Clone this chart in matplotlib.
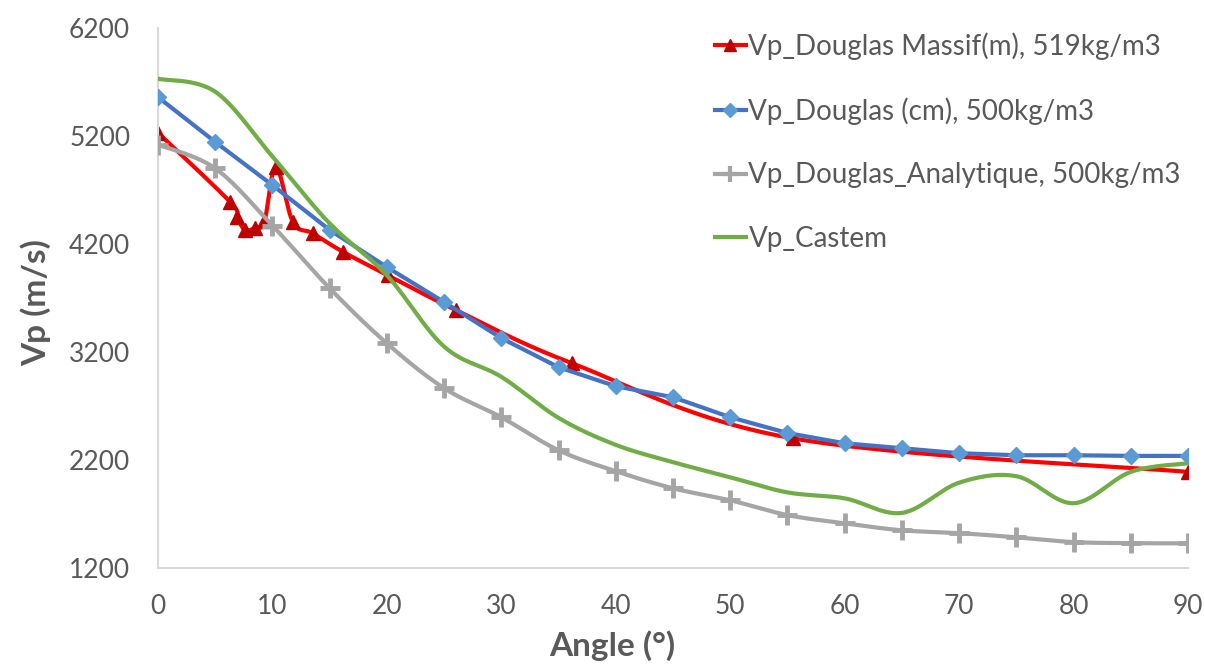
import numpy as np
import matplotlib
matplotlib.use('Agg')
import matplotlib.pyplot as plt

plt.rcParams['font.family'] = ['Lato', 'DejaVu Sans']

# Vp_Douglas Massif(m), 519kg/m3
angle_massif = [0, 6.3, 6.9, 7.6, 8.5, 9.3, 10.3, 11.8, 13.5, 16.2, 20.1, 26.0, 36.2, 55.5, 90]
vp_massif = [5230, 4590, 4450, 4330, 4350, 4410, 4915, 4400, 4300, 4125, 3910, 3590, 3095, 2400, 2090]

# angles every 5 deg for the other series
angle = [0, 5, 10, 15, 20, 25, 30, 35, 40, 45, 50, 55, 60, 65, 70, 75, 80, 85, 90]
vp_cm = [5560, 5145, 4745, 4330, 3986, 3662, 3328, 3059, 2883, 2781, 2596, 2450, 2355,
         2309, 2263, 2244, 2244, 2238, 2238]
vp_analytique = [5120, 4900, 4370, 3790, 3280, 2865, 2596, 2290, 2096, 1938, 1827, 1690,
                 1614, 1549, 1523, 1484, 1440, 1430, 1428]
vp_castem = [5730, 5610, 5010, 4390, 3910, 3250, 2970, 2590, 2340, 2180, 2040, 1900, 1845,
             1710, 1990, 2050, 1800, 2090, 2170]

labels = ['Vp_Douglas Massif(m), 519kg/m3', 'Vp_Douglas (cm), 500kg/m3',
          'Vp_Douglas_Analytique, 500kg/m3', 'Vp_Castem']


def smooth(x, y, n=30):
    # excel style smoothed line (catmull-rom bezier through the points)
    p = np.column_stack([x, y]).astype(float)
    p = np.vstack([p[0], p, p[-1]])
    t = np.linspace(0, 1, n)[:, None]
    out = []
    for i in range(1, len(p) - 2):
        p0, p1, p2, p3 = p[i - 1], p[i], p[i + 1], p[i + 2]
        c1 = p1 + (p2 - p0) / 6
        c2 = p2 - (p3 - p1) / 6
        seg = ((1 - t) ** 3) * p1 + 3 * ((1 - t) ** 2) * t * c1 + 3 * (1 - t) * t ** 2 * c2 + t ** 3 * p2
        out.append(seg)
    out = np.vstack(out)
    return out[:, 0], out[:, 1]


fig = plt.figure(figsize=(12.05, 6.65), dpi=100)
ax = fig.add_axes([158 / 1205, 1 - 568 / 665, 1030 / 1205, 540 / 665])

red, red_dk = '#ff0000', '#c00000'
blue, blue_lt = '#4472c4', '#5b9bd5'
grey = '#a5a5a5'
green = '#70ad47'
txt = '#595959'
lw = 3

sx, sy = smooth(angle_massif, vp_massif)
ax.plot(sx, sy, color=red, lw=lw, zorder=2)
ax.plot(angle_massif, vp_massif, ls='none', marker='^', ms=10, color=red_dk, zorder=2)

ax.plot(angle, vp_cm, color=blue, lw=lw, zorder=3)
ax.plot(angle, vp_cm, ls='none', marker='D', ms=8, color=blue_lt, zorder=3)

sx, sy = smooth(angle, vp_analytique)
ax.plot(sx, sy, color=grey, lw=lw, zorder=4)
ax.plot(angle, vp_analytique, ls='none', marker='+', ms=14, mew=3.5, color=grey, zorder=4)

sx, sy = smooth(angle, vp_castem)
ax.plot(sx, sy, color=green, lw=lw, zorder=5)

# legend handles
h1, = ax.plot([], [], color=red, lw=lw, marker='^', ms=9, mfc=red_dk, mec=red_dk)
h2, = ax.plot([], [], color=blue, lw=lw, marker='D', ms=7, mfc=blue_lt, mec=blue_lt)
h3, = ax.plot([], [], color=grey, lw=lw, marker='+', ms=12, mew=3)
h4, = ax.plot([], [], color=green, lw=lw)
leg = ax.legend([h1, h2, h3, h4], labels, loc='upper left', frameon=False,
                bbox_to_anchor=(704 / 1205, 1 - 21 / 665), bbox_transform=fig.transFigure,
                prop={'size': 20}, handlelength=1.1,
                handletextpad=0.1, labelspacing=1.35, borderaxespad=0)
for t in leg.get_texts():
    t.set_color(txt)

ax.set_xlim(0, 90)
ax.set_ylim(1200, 6200)
ax.set_xticks(range(0, 91, 10))
ax.set_yticks(range(1200, 6201, 1000))
ax.tick_params(length=0, labelsize=19, labelcolor=txt)
ax.tick_params(axis='x', pad=19)
ax.tick_params(axis='y', pad=20)

for s in ['top', 'right']:
    ax.spines[s].set_visible(False)
for s in ['left', 'bottom']:
    ax.spines[s].set_color('#d9d9d9')
    ax.spines[s].set_linewidth(1.5)

ax.set_xlabel('Angle (°)', fontsize=24, fontweight='bold', color=txt)
ax.set_ylabel('Vp (m/s)', fontsize=24, fontweight='bold', color=txt)
ax.xaxis.set_label_coords((612 - 158) / 1030, (568 - 646) / 540)
ax.xaxis.label.set_va('center')
ax.yaxis.set_label_coords((36 - 158) / 1030, (568 - 303) / 540)
ax.yaxis.label.set_va('center')

fig.savefig('out.png', dpi=100)
